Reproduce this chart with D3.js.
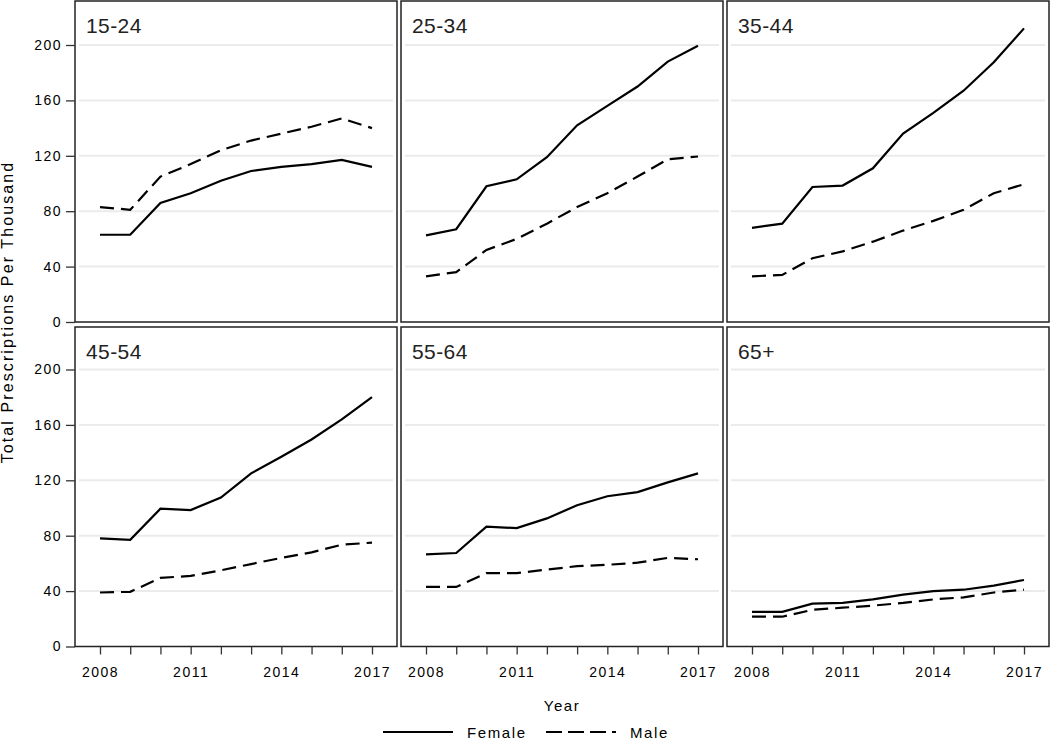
<!DOCTYPE html>
<html>
<head>
    <meta charset="utf-8">
    <title>Total Prescriptions Per Thousand</title>
    <script src="https://d3js.org/d3.v7.min.js"></script>
    <style>
        body { margin: 0; background: #fff; }
        text { font-family: "Liberation Sans", Arial, sans-serif; fill: #000; }
    </style>
</head>
<body>
    <script>
        // data
        const years = [2008, 2009, 2010, 2011, 2012, 2013, 2014, 2015, 2016, 2017]
        const ageGroups = ['15-24', '25-34', '35-44', '45-54', '55-64', '65+']
        const female = [
            [63, 63, 86, 93, 102, 109, 112, 114, 117, 112],
            [62.5, 67, 98, 103, 119, 142, 156, 170, 188, 199.5],
            [68, 71, 97.5, 98.5, 111, 136, 151, 167, 187.5, 212],
            [78, 77, 99.5, 98.5, 107.5, 125, 137, 149.5, 164, 180],
            [66.5, 67.5, 86.5, 85.5, 92.5, 102, 108.5, 111.5, 118.5, 125],
            [25, 25, 31, 31.5, 34, 37.5, 40, 41, 44, 48]
        ]
        const male = [
            [83, 81, 105, 114, 124, 131, 136, 141, 147, 140],
            [33, 36, 52, 60, 71, 83, 93, 105, 117.5, 119.5],
            [33, 34, 46, 51, 58, 66, 73, 81, 93, 99.5],
            [39, 39.5, 49.5, 51, 55, 59.5, 64, 68, 73.5, 75],
            [43, 43, 53, 53, 55.5, 58, 59, 60.5, 64, 63],
            [21.5, 21.5, 26.5, 28, 29.5, 31.5, 34, 35.5, 39, 41]
        ]
        const yTicks = [0, 40, 80, 120, 160, 200]
        const xTicks = [2008, 2011, 2014, 2017]
        const legendItems = ['Female', 'Male']

        const width = 1050, height = 740
        const panelW = 322
        const panelLeft = [75, 401, 727]
        const rowTop = [1, 327]
        const rowBottom = [322, 646.5]
        const dash = '14,7'
        const font = '"Liberation Sans", Arial, sans-serif'

        const svg = d3.select('body').append('svg')
            .attr('width', width)
            .attr('height', height)

        ageGroups.forEach((name, i) => {
            const col = i % 3
            const row = Math.floor(i / 3)
            const x0 = panelLeft[col]
            const top = rowTop[row]
            const bottom = rowBottom[row]

            const x = d3.scaleLinear().domain([2008, 2017]).range([x0 + 25, x0 + panelW - 25])
            const y = d3.scaleLinear().domain([0, 232]).range([bottom, bottom - 232 * (277 / 200)])

            const g = svg.append('g')

            // grid
            g.selectAll('.grid')
                .data(yTicks.filter(t => t > 0))
                .enter()
                .append('line')
                .attr('x1', x0 + 4)
                .attr('x2', x0 + panelW - 4)
                .attr('y1', d => y(d))
                .attr('y2', d => y(d))
                .attr('stroke', '#ebebeb')
                .attr('stroke-width', 2)

            const line = d3.line()
                .x((d, j) => x(years[j]))
                .y(d => y(d))

            g.append('path')
                .datum(male[i])
                .attr('d', line)
                .attr('fill', 'none')
                .attr('stroke', '#000')
                .attr('stroke-width', 2.2)
                .attr('stroke-dasharray', dash)

            g.append('path')
                .datum(female[i])
                .attr('d', line)
                .attr('fill', 'none')
                .attr('stroke', '#000')
                .attr('stroke-width', 2.2)

            // panel border
            g.append('rect')
                .attr('x', x0)
                .attr('y', top)
                .attr('width', panelW)
                .attr('height', bottom - top)
                .attr('fill', 'none')
                .attr('stroke', '#222')
                .attr('stroke-width', 1.5)

            g.append('text')
                .attr('x', x0 + 11)
                .attr('y', top + 32)
                .attr('font-size', '21px')
                .attr('letter-spacing', '0.4px')
                .style('fill', '#222')
                .text(name)

            // left axis only in first column
            if (col === 0) {
                const ax = g.append('g')
                    .attr('transform', `translate(${x0},0)`)
                    .call(d3.axisLeft(y).tickValues(yTicks).tickSize(9).tickPadding(4).tickSizeOuter(0))
                ax.select('.domain').remove()
                ax.selectAll('line').attr('stroke', '#333').attr('stroke-width', 1.3)
                ax.selectAll('text')
                    .attr('font-size', '14px')
                    .attr('letter-spacing', '1.5px')
                    .style('font-family', font)
            }

            // bottom axis only in bottom row
            if (row === 1) {
                const ax = g.append('g')
                    .attr('transform', `translate(0,${bottom})`)
                    .call(d3.axisBottom(x).tickValues(years).tickSize(8).tickPadding(13).tickFormat(d => xTicks.includes(d) ? d : ''))
                ax.select('.domain').remove()
                ax.selectAll('line').attr('stroke', '#333').attr('stroke-width', 1.3)
                ax.selectAll('text')
                    .attr('font-size', '14px')
                    .attr('letter-spacing', '1.5px')
                    .style('font-family', font)
            }
        })

        // axis titles
        svg.append('text')
            .attr('transform', 'translate(13,312) rotate(-90)')
            .attr('text-anchor', 'middle')
            .attr('font-size', '16px')
            .attr('letter-spacing', '2.1px')
            .text('Total Prescriptions Per Thousand')

        svg.append('text')
            .attr('x', 562)
            .attr('y', 711)
            .attr('text-anchor', 'middle')
            .attr('font-size', '15px')
            .attr('letter-spacing', '1.5px')
            .text('Year')

        // legend
        const legendX = [383, 546]
        const legend = svg.selectAll('.legend')
            .data(legendItems)
            .enter()
            .append('g')
            .attr('transform', (d, i) => `translate(${legendX[i]},732)`)

        legend.append('line')
            .attr('x1', 0)
            .attr('x2', 70)
            .attr('stroke', '#000')
            .attr('stroke-width', 2.2)
            .attr('stroke-dasharray', (d, i) => i === 1 ? '16,6' : null)

        legend.append('text')
            .attr('x', 84)
            .attr('y', 6)
            .attr('font-size', '15px')
            .attr('letter-spacing', '1.6px')
            .text(d => d)
    </script>
</body>
</html>
